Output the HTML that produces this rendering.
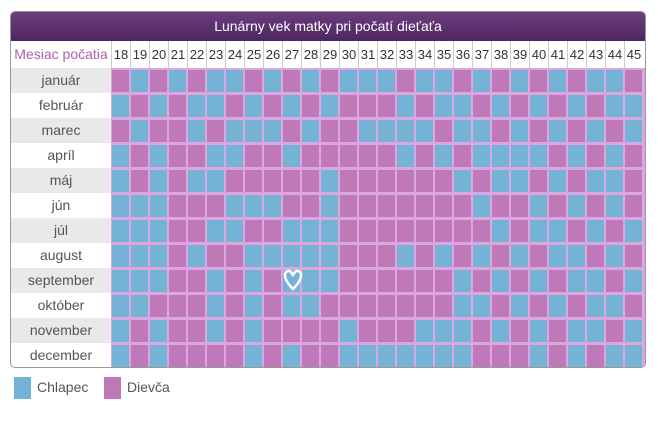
<!DOCTYPE html>
<html><head><meta charset="utf-8"><style>
body{margin:0;background:#fff;width:658px;height:427px;position:relative;font-family:"Liberation Sans",sans-serif;overflow:hidden}
#box{position:absolute;left:10px;top:11px;width:634px;height:355px;border:1px solid #999;border-radius:5px;overflow:hidden;background:#fff}
#title{position:absolute;left:0;top:0;width:634px;height:29px;background:linear-gradient(#6b3e7e,#4d2560);color:#fff;font-size:14px;line-height:29px;text-align:center}
.lab{position:absolute;left:0;width:100px;height:25px;line-height:25px;text-align:center;font-size:14px;color:#555}
.hd{position:absolute;top:29px;height:27px;line-height:27px;font-size:13px;color:#333;text-align:center;width:19px;border-left:1px solid #ccc;box-sizing:border-box}
#grid{position:absolute;left:100px;top:56px;width:534px;height:300px;background:#dca6e0}
.c{position:absolute;width:17px;height:22px}
.leg{position:absolute;top:377px;width:17px;height:22px}
.lt{position:absolute;top:379px;font-size:14px;color:#555}
</style></head><body>
<div id="box">
<div id="title">Lunárny vek matky pri počatí dieťaťa</div>
<div class="lab" style="top:29px;height:27px;line-height:27px;color:#b05fae;">Mesiac počatia</div>
<div class="hd" style="left:100px">18</div><div class="hd" style="left:119px">19</div><div class="hd" style="left:138px">20</div><div class="hd" style="left:157px">21</div><div class="hd" style="left:176px">22</div><div class="hd" style="left:195px">23</div><div class="hd" style="left:214px">24</div><div class="hd" style="left:233px">25</div><div class="hd" style="left:252px">26</div><div class="hd" style="left:271px">27</div><div class="hd" style="left:290px">28</div><div class="hd" style="left:309px">29</div><div class="hd" style="left:328px">30</div><div class="hd" style="left:347px">31</div><div class="hd" style="left:366px">32</div><div class="hd" style="left:385px">33</div><div class="hd" style="left:404px">34</div><div class="hd" style="left:423px">35</div><div class="hd" style="left:442px">36</div><div class="hd" style="left:461px">37</div><div class="hd" style="left:480px">38</div><div class="hd" style="left:499px">39</div><div class="hd" style="left:518px">40</div><div class="hd" style="left:537px">41</div><div class="hd" style="left:556px">42</div><div class="hd" style="left:575px">43</div><div class="hd" style="left:594px">44</div><div class="hd" style="left:613px">45</div>
<div class="lab" style="top:56px;background:#e9e9e9">január</div>
<div class="lab" style="top:81px">február</div>
<div class="lab" style="top:106px;background:#e9e9e9">marec</div>
<div class="lab" style="top:131px">apríl</div>
<div class="lab" style="top:156px;background:#e9e9e9">máj</div>
<div class="lab" style="top:181px">jún</div>
<div class="lab" style="top:206px;background:#e9e9e9">júl</div>
<div class="lab" style="top:231px">august</div>
<div class="lab" style="top:256px;background:#e9e9e9">september</div>
<div class="lab" style="top:281px">október</div>
<div class="lab" style="top:306px;background:#e9e9e9">november</div>
<div class="lab" style="top:331px">december</div>
<div id="grid"></div>
</div>
<div class="leg" style="left:14px;background:#74b2d6"></div><div class="lt" style="left:37px">Chlapec</div>
<div class="leg" style="left:104px;background:#bf78b8"></div><div class="lt" style="left:127px">Dievča</div>
<script>
var rows=[
"PBPBPBBPBPBPBBBPBBPBPBPBPBBP",
"BPBPBBPBPBPBPPPBPBBPBPBPBPBB",
"PBPPBPBBBPBPPBBBBPBBPBPBPBPB",
"BPBPPBBPPBPPPPPBPBPBBBBPBPBP",
"BPBPBBPPPPPBPPPPPPBPBBPBPBBP",
"BBBPPPBBBPPBPPPPPPPBPPBPBPBP",
"BBBPPBBPPBBBPPPPPPPPBPBBPBPB",
"BBBPBPPBBBBBPPPBPBPBPBPBBPBP",
"BBBPPBPBPBBBPPPPPPBPBPBPBBPB",
"BBPPPBPBPBBPPPPPPPBBPBPBPBBP",
"BPBPPBPBPPPPBPPPBBBPBPBPBBPB",
"BPBPPPPBPBPPBBBBBBBPPPBPBPBB"];
var g=document.getElementById('grid'),h='';
for(var r=0;r<12;r++)for(var c=0;c<28;c++){
h+='<div class="c" style="left:'+(c*19+1)+'px;top:'+(r*25+2)+'px;background:'+(rows[r][c]=='B'?'#74b2d6':'#bf78b8')+'"></div>';}
h+='<svg style="position:absolute;left:172px;top:201px" width="20" height="22" viewBox="0 0 20 22"><path d="M10 20 C4 14 2 10 2 6 C2 2 6 1 8 3 L10 6 L12 3 C14 1 18 2 18 6 C18 10 16 14 10 20Z" fill="none" stroke="#fff" stroke-width="2.5"/></svg>';
g.innerHTML=h;
</script>
</body></html>
